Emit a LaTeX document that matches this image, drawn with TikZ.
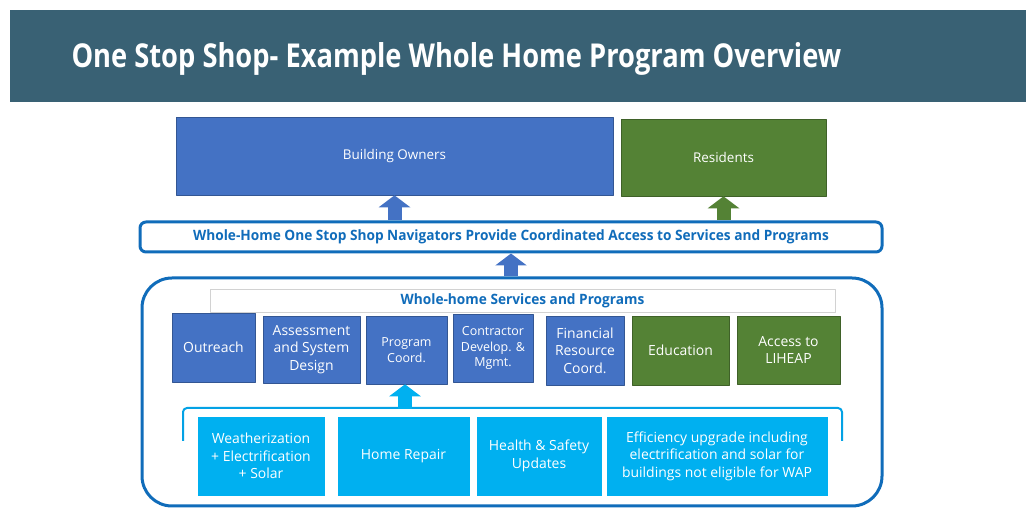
\documentclass[tikz,border=0pt]{standalone}
\usepackage{fontspec}
\setmainfont{Open Sans}
\newfontfamily\headfont{Open Sans}[FakeStretch=0.83]
\newfontfamily\barfont{Open Sans}[FakeStretch=0.96]
\usepackage{tikz}
\usetikzlibrary{arrows.meta,positioning,backgrounds}

\definecolor{bandcol}{RGB}{57,97,116}
\definecolor{ownerblue}{RGB}{68,114,196}
\definecolor{residgreen}{RGB}{84,130,53}
\definecolor{skyblue}{RGB}{0,176,240}
\definecolor{lineblue}{RGB}{16,108,186}

\begin{document}
\begin{tikzpicture}[line join=round,
  box/.style={text=white,align=center,inner sep=2bp,font=\fontsize{14}{17.5}\selectfont},
  bluebox/.style={box,fill=ownerblue,draw=ownerblue!75!black,line width=0.6bp},
  greenbox/.style={box,fill=residgreen,draw=residgreen!75!black,line width=0.6bp},
  skybox/.style={box,fill=skyblue,draw=white,line width=0.8bp},
  frame/.style={draw=lineblue,line width=3bp},
  uparrow/.style={line width=14bp,-{Triangle[width=31bp,length=12bp]}},
]
%%
\useasboundingbox (0bp,0bp) rectangle (1026bp,508bp);
\fill [bandcol] (10bp,406bp) rectangle (1026bp,498bp);
\node (title) at (68bp,449bp) [anchor=west,text=white,font=\headfont\bfseries\fontsize{33}{36}\selectfont] {One Stop Shop- Example Whole Home Program Overview};
%
  \node (owners) at (394.5bp,352bp) [bluebox,minimum width=437bp,minimum height=78bp,font=\fontsize{13.5}{17}\selectfont] {Building Owners};
  \node (residents) at (723.5bp,350.5bp) [greenbox,minimum width=205bp,minimum height=77bp,font=\fontsize{13.5}{17}\selectfont] {Residents};
  \node (nav) at (511bp,271bp) [frame,rounded corners=6bp,fill=white,minimum width=742bp,minimum height=30bp,text=lineblue,font=\barfont\bfseries\fontsize{14.3}{16}\selectfont] {Whole-Home One Stop Shop Navigators Provide Coordinated Access to Services and Programs};
  \node (services) at (512bp,116bp) [frame,rounded corners=30bp,minimum width=740bp,minimum height=228bp] {};
  \node (header) at (522.5bp,207.5bp) [draw=gray!35,fill=white,minimum width=625bp,minimum height=23bp,text=lineblue,font=\barfont\bfseries\fontsize{14.3}{16}\selectfont] {Whole-home Services and Programs};
%
  \node (outreach) at (213.5bp,160.5bp) [bluebox,minimum width=83bp,minimum height=69bp] {Outreach};
  \node (assess) at (311.5bp,158.5bp) [bluebox,minimum width=97bp,minimum height=67bp] {Assessment\\and System\\Design};
  \node (progcoord) at (406.5bp,158bp) [bluebox,minimum width=81bp,minimum height=68bp,font=\fontsize{12.5}{16}\selectfont] {Program\\Coord.};
  \node (contractor) at (493bp,160bp) [bluebox,minimum width=80bp,minimum height=68bp,font=\fontsize{12.5}{16}\selectfont] {Contractor\\Develop. \&\\Mgmt.};
  \node (financial) at (585bp,157.5bp) [bluebox,minimum width=78bp,minimum height=69bp] {Financial\\Resource\\Coord.};
  \node (education) at (680.5bp,157.5bp) [greenbox,minimum width=97bp,minimum height=69bp] {Education};
  \node (liheap) at (788.5bp,158bp) [greenbox,minimum width=103bp,minimum height=68bp] {Access to\\LIHEAP};
%
  \node (weather) at (261bp,52bp) [skybox,minimum width=128bp,minimum height=80bp] {Weatherization\\+ Electrification\\+ Solar};
  \node (repair) at (403.5bp,52bp) [skybox,minimum width=133bp,minimum height=80bp] {Home Repair};
  \node (health) at (539bp,52bp) [skybox,minimum width=126bp,minimum height=80bp] {Health \& Safety\\Updates};
  \node (efficiency) at (717bp,52bp) [skybox,minimum width=222bp,minimum height=80bp] {Efficiency upgrade including\\electrification and solar for\\buildings not eligible for WAP};
%
  \draw [skyblue!80!lineblue,line width=2bp,rounded corners=4bp] (183bp,67bp) -- (183bp,100bp) -- (842bp,100bp) -- (842bp,67bp);
  \coordinate (bracetop) at (405bp,99bp);
%
  \draw [uparrow,ownerblue] (owners.south |- nav.north) -- (owners.south);
  \draw [uparrow,residgreen] (residents.south |- nav.north) -- (residents.south);
  \draw [uparrow,ownerblue] (nav.south |- services.north) -- (nav.south);
  \draw [uparrow,skyblue] (bracetop) -- (bracetop |- progcoord.south);
%
\end{tikzpicture}
\end{document}
